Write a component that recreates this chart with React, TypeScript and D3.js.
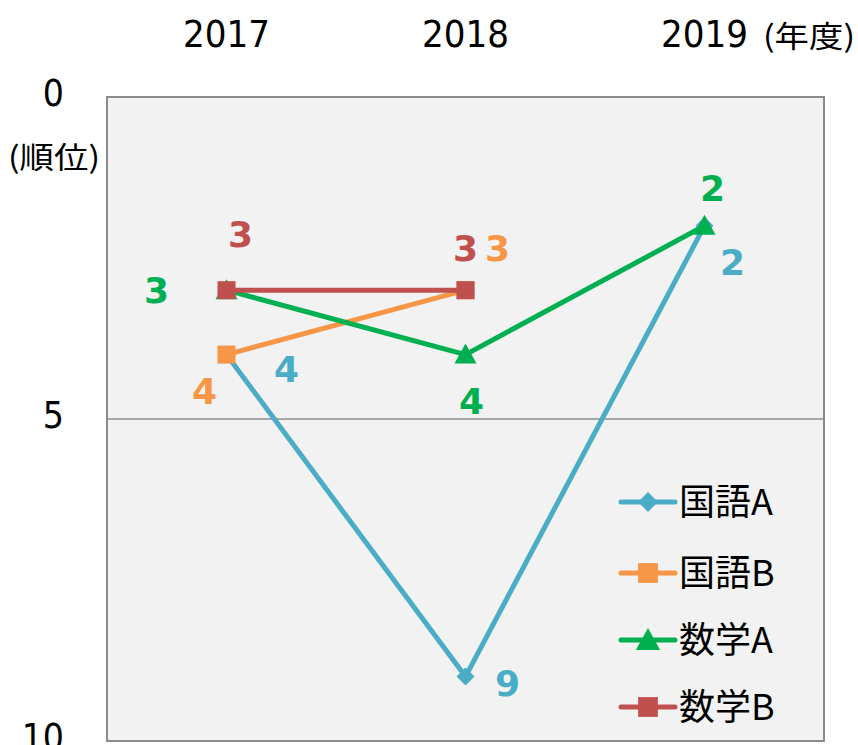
import React from 'react';
import * as d3 from 'd3';

const years = ['2017', '2018', '2019'];
const yTicks = [0, 5, 10];
const seriesNames = ['国語A', '国語B', '数学A', '数学B'];
const kokugoA = [4, 9, 2];
const kokugoB = [4, 3, null];
const sugakuA = [3, 4, 2];
const sugakuB = [3, 3, null];

const colors = ['#4bacc6', '#f79646', '#00b050', '#c0504d'];
const markers = ['diamond', 'square', 'triangle', 'square'];
// label offsets (dx, dy) per point, relative to the marker
const labelOffsets = [
  [[60, 14], [42, 6], [28, 36]],
  [[-22, 36], [32, -42], [0, 0]],
  [[-70, 0], [6, 46], [8, -38]],
  [[14, -56], [0, -42], [0, 0]],
];

const W = 858;
const H = 745;
const plot = { left: 107, right: 824, top: 97, bottom: 741 };

const Marker = ({ type, x, y, color, s = 1 }: { type: string; x: number; y: number; color: string; s?: number }) => {
  if (type === 'square') return <rect x={x - 9 * s} y={y - 9 * s} width={18 * s} height={18 * s} fill={color} />;
  if (type === 'triangle')
    return <path d={`M${x},${y - 11 * s}L${x + 11 * s},${y + 9 * s}L${x - 11 * s},${y + 9 * s}Z`} fill={color} />;
  return <path d={`M${x},${y - 9 * s}L${x + 9 * s},${y}L${x},${y + 9 * s}L${x - 9 * s},${y}Z`} fill={color} />;
};

const App = () => {
  const data = [kokugoA, kokugoB, sugakuA, sugakuB];
  const x = d3.scalePoint<string>().domain(years).range([plot.left, plot.right]).padding(0.5);
  const y = d3.scaleLinear().domain([0, 10]).range([plot.top, plot.bottom]);
  const lineGen = d3
    .line<number | null>()
    .defined((d) => d != null)
    .x((_, i) => x(years[i]) as number)
    .y((d) => y(d as number));

  const condensed = { fontFamily: '"DejaVu Sans Condensed", "DejaVu Sans", sans-serif', fontStretch: 'condensed' as const };
  const cjk = '"Noto Sans CJK JP", "Noto Sans", sans-serif';
  const legendY = [502, 573, 640, 707];

  return (
    <svg width={W} height={H} style={{ position: 'absolute', left: 0, top: 0, background: '#fff' }}>
      <rect
        x={plot.left}
        y={plot.top}
        width={plot.right - plot.left}
        height={plot.bottom - plot.top}
        fill="#f2f2f2"
        stroke="#8c8c8c"
        strokeWidth={2}
      />
      {yTicks.slice(1, -1).map((t) => (
        <line key={t} x1={plot.left} x2={plot.right} y1={y(t)} y2={y(t)} stroke="#8c8c8c" strokeWidth={1.5} />
      ))}
      {yTicks.map((t) => (
        <text key={t} x={64} y={y(t) + 9} textAnchor="end" fontSize={37} fill="#000" style={condensed}>
          {t}
        </text>
      ))}
      <text x={8} y={168} fontSize={30} fill="#000" fontFamily={cjk} textLength={92} lengthAdjust="spacingAndGlyphs">
        (順位)
      </text>
      {years.map((yr) => (
        <text key={yr} x={x(yr)} y={47} textAnchor="middle" fontSize={38} fill="#000" style={condensed}>
          {yr}
        </text>
      ))}
      <text x={763} y={47} fontSize={30} fill="#000" fontFamily={cjk} textLength={92} lengthAdjust="spacingAndGlyphs">
        (年度)
      </text>

      {data.map((s, si) => (
        <g key={si}>
          <path d={lineGen(s) || ''} fill="none" stroke={colors[si]} strokeWidth={5} strokeLinejoin="round" />
          {s.map((v, i) =>
            v == null ? null : (
              <Marker key={i} type={markers[si]} x={x(years[i]) as number} y={y(v)} color={colors[si]} />
            )
          )}
        </g>
      ))}
      {data.map((s, si) =>
        s.map((v, i) =>
          v == null ? null : (
            <text
              key={`${si}-${i}`}
              x={(x(years[i]) as number) + labelOffsets[si][i][0]}
              y={y(v) + labelOffsets[si][i][1] + 13}
              textAnchor="middle"
              fontSize={36}
              fontWeight="bold"
              fill={colors[si]}
              fontFamily='"DejaVu Sans", sans-serif'
            >
              {v}
            </text>
          )
        )
      )}

      {seriesNames.map((n, si) => (
        <g key={n}>
          <line x1={621} x2={675} y1={legendY[si]} y2={legendY[si]} stroke={colors[si]} strokeWidth={5} strokeLinecap="round" />
          <Marker type={markers[si]} x={648} y={legendY[si]} color={colors[si]} s={1.1} />
          <text x={679} y={legendY[si] + 13} fontSize={36} fill="#000" fontFamily={cjk}>
            {n}
          </text>
        </g>
      ))}
    </svg>
  );
};

export default App;
